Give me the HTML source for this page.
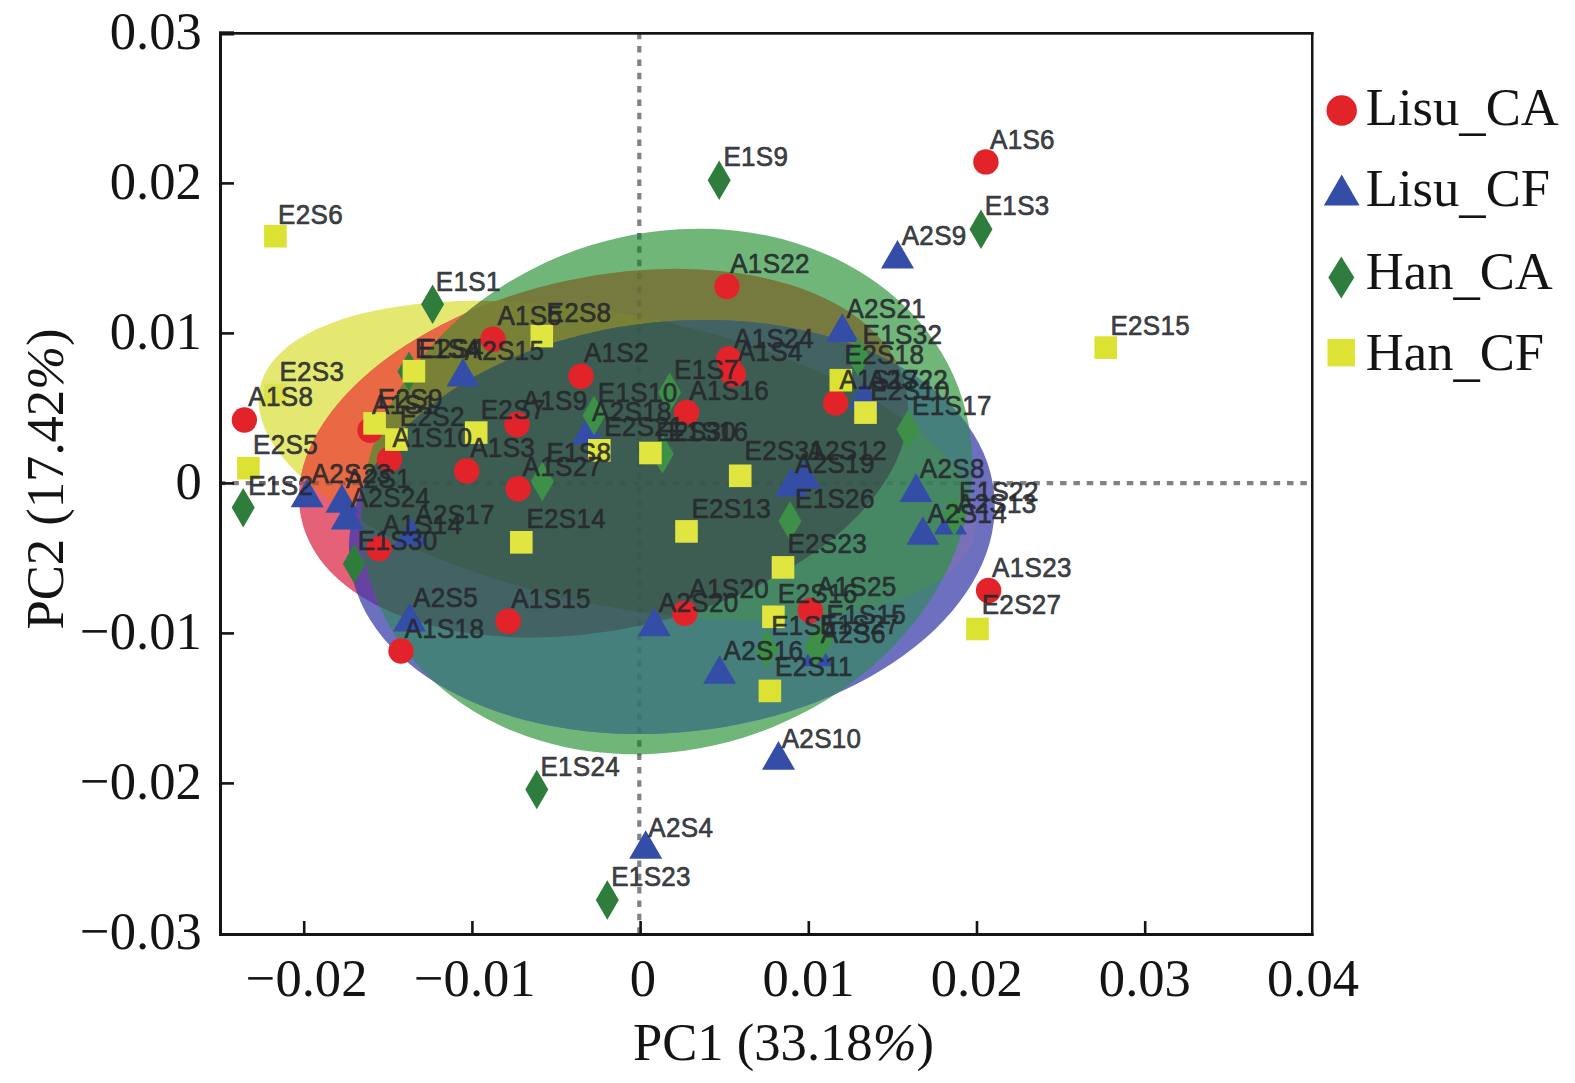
<!DOCTYPE html><html><head><meta charset="utf-8"><title>PCA</title><style>html,body{margin:0;padding:0;background:#fff}svg{display:block}text{white-space:pre}</style></head><body>
<svg width="1575" height="1083" viewBox="0 0 1575 1083">
<defs>
<clipPath id="cY"><ellipse cx="617.5" cy="460.5" rx="365.0" ry="145.4" transform="rotate(11.39 617.5 460.5)"/></clipPath>
<clipPath id="cR"><ellipse cx="603.6" cy="453.2" rx="309.3" ry="176.4" transform="rotate(-12.19 603.6 453.2)"/></clipPath>
<clipPath id="cG"><ellipse cx="666.8" cy="491.5" rx="309.7" ry="257.7" transform="rotate(-17.4 666.8 491.5)"/></clipPath>
<clipPath id="cB"><ellipse cx="671.9" cy="527.0" rx="324.0" ry="205.3" transform="rotate(-6.2 671.9 527.0)"/></clipPath>
<clipPath id="cSeg"><rect x="630" y="232" width="20" height="38.5"/><rect x="630" y="734.5" width="20" height="21"/></clipPath><clipPath id="cSegH"><rect x="258" y="470" width="102" height="26"/><rect x="973" y="470" width="20" height="26"/></clipPath>
</defs>
<rect width="1575" height="1083" fill="#fff"/>
<g stroke="#828284" stroke-width="4.2" stroke-dasharray="6.5 6.85" fill="none">
<path d="M639.3 32.7V933"/>
<path d="M219 483.1H1311"/>
</g>
<g id="ellipses">
<ellipse cx="617.5" cy="460.5" rx="365.0" ry="145.4" transform="rotate(11.39 617.5 460.5)" fill="#e4e871"/>
<ellipse cx="603.6" cy="453.2" rx="309.3" ry="176.4" transform="rotate(-12.19 603.6 453.2)" fill="#e56178"/>
<ellipse cx="666.8" cy="491.5" rx="309.7" ry="257.7" transform="rotate(-17.4 666.8 491.5)" fill="#70b678"/>
<ellipse cx="671.9" cy="527.0" rx="324.0" ry="205.3" transform="rotate(-6.2 671.9 527.0)" fill="#6c70be"/>
<g clip-path="url(#cR)"><ellipse cx="617.5" cy="460.5" rx="365.0" ry="145.4" transform="rotate(11.39 617.5 460.5)" fill="#e86944"/></g>
<g clip-path="url(#cG)"><ellipse cx="617.5" cy="460.5" rx="365.0" ry="145.4" transform="rotate(11.39 617.5 460.5)" fill="#7d8a3c"/></g>
<g clip-path="url(#cB)"><ellipse cx="617.5" cy="460.5" rx="365.0" ry="145.4" transform="rotate(11.39 617.5 460.5)" fill="#7871ba"/></g>
<g clip-path="url(#cG)"><ellipse cx="603.6" cy="453.2" rx="309.3" ry="176.4" transform="rotate(-12.19 603.6 453.2)" fill="#767a3e"/></g>
<g clip-path="url(#cB)"><ellipse cx="603.6" cy="453.2" rx="309.3" ry="176.4" transform="rotate(-12.19 603.6 453.2)" fill="#6642a2"/></g>
<g clip-path="url(#cB)"><ellipse cx="666.8" cy="491.5" rx="309.7" ry="257.7" transform="rotate(-17.4 666.8 491.5)" fill="#46807d"/></g>
<g clip-path="url(#cG)"><g clip-path="url(#cR)"><ellipse cx="617.5" cy="460.5" rx="365.0" ry="145.4" transform="rotate(11.39 617.5 460.5)" fill="#788136"/></g></g>
<g clip-path="url(#cB)"><g clip-path="url(#cR)"><ellipse cx="617.5" cy="460.5" rx="365.0" ry="145.4" transform="rotate(11.39 617.5 460.5)" fill="#6642a2"/></g></g>
<g clip-path="url(#cB)"><g clip-path="url(#cG)"><ellipse cx="617.5" cy="460.5" rx="365.0" ry="145.4" transform="rotate(11.39 617.5 460.5)" fill="#468864"/></g></g>
<g clip-path="url(#cB)"><g clip-path="url(#cG)"><ellipse cx="603.6" cy="453.2" rx="309.3" ry="176.4" transform="rotate(-12.19 603.6 453.2)" fill="#426264"/></g></g>
<g clip-path="url(#cB)"><g clip-path="url(#cG)"><g clip-path="url(#cR)"><ellipse cx="617.5" cy="460.5" rx="365.0" ry="145.4" transform="rotate(11.39 617.5 460.5)" fill="#3e5d52"/></g></g></g>
</g>
<g stroke="#1f3a34" stroke-width="4.2" stroke-dasharray="6.5 6.85" fill="none">
<g clip-path="url(#cG)" stroke-opacity="0.17"><path d="M639.3 32.7V933"/><path d="M219 483.1H1311"/></g>
<g clip-path="url(#cSeg)" stroke="#1f5a30" stroke-opacity="0.5"><path d="M639.3 32.7V933"/></g>
<g clip-path="url(#cSegH)" stroke="#333" stroke-opacity="0.3"><path d="M219 483.1H1311"/></g>
</g>
<g id="markers">
<path d="M897.5 240.0L914.0 268.6H881.0Z" fill="#344ea8"/>
<path d="M842.3 313.3L858.8 341.9H825.8Z" fill="#344ea8"/>
<path d="M463.0 358.0L479.5 386.6H446.5Z" fill="#344ea8"/>
<path d="M588.0 415.4L604.5 444.0H571.5Z" fill="#344ea8"/>
<path d="M307.2 478.7L323.7 507.3H290.7Z" fill="#344ea8"/>
<path d="M341.9 484.1L358.4 512.7H325.4Z" fill="#344ea8"/>
<path d="M347.3 500.8L363.8 529.4H330.8Z" fill="#344ea8"/>
<path d="M411.0 517.4L427.5 546.0H394.5Z" fill="#344ea8"/>
<path d="M409.5 602.9L426.0 631.5H393.0Z" fill="#344ea8"/>
<path d="M864.2 380.2L880.7 408.8H847.7Z" fill="#344ea8"/>
<path d="M804.5 460.0L821.0 488.6H788.0Z" fill="#344ea8"/>
<path d="M791.3 468.0L807.8 496.6H774.8Z" fill="#344ea8"/>
<path d="M916.0 473.3L932.5 501.9H899.5Z" fill="#344ea8"/>
<path d="M922.9 516.2L939.4 544.8H906.4Z" fill="#344ea8"/>
<path d="M950.5 506.0L967.0 534.6H934.0Z" fill="#344ea8"/>
<path d="M654.3 607.6L670.8 636.2H637.8Z" fill="#344ea8"/>
<path d="M719.6 655.2L736.1 683.8H703.1Z" fill="#344ea8"/>
<path d="M817.0 637.6L833.5 666.2H800.5Z" fill="#344ea8"/>
<path d="M778.5 741.1L795.0 769.7H762.0Z" fill="#344ea8"/>
<path d="M645.7 830.2L662.2 858.8H629.2Z" fill="#344ea8"/>
<path d="M719.2 160.4L730.7 180.2L719.2 199.9L707.7 180.2Z" fill="#2e7d3c"/>
<path d="M981.0 209.6L992.5 229.3L981.0 249.1L969.5 229.3Z" fill="#2e7d3c"/>
<path d="M432.6 284.4L444.1 304.2L432.6 323.9L421.1 304.2Z" fill="#2e7d3c"/>
<path d="M409.0 351.6L420.5 371.4L409.0 391.1L397.5 371.4Z" fill="#2e7d3c"/>
<path d="M594.0 395.8L605.5 415.5L594.0 435.2L582.5 415.5Z" fill="#3e9048"/>
<path d="M669.6 372.6L681.1 392.4L669.6 412.1L658.1 392.4Z" fill="#3e9048"/>
<path d="M858.5 337.2L870.0 357.0L858.5 376.8L847.0 357.0Z" fill="#3e9048"/>
<path d="M908.0 409.8L919.5 429.5L908.0 449.2L896.5 429.5Z" fill="#3e9048"/>
<path d="M662.4 434.2L673.9 454.0L662.4 473.8L650.9 454.0Z" fill="#3e9048"/>
<path d="M542.3 461.8L553.8 481.5L542.3 501.2L530.8 481.5Z" fill="#3e9048"/>
<path d="M243.2 487.9L254.7 507.6L243.2 527.4L231.7 507.6Z" fill="#2e7d3c"/>
<path d="M354.3 544.0L365.8 563.8L354.3 583.5L342.8 563.8Z" fill="#2e7d3c"/>
<path d="M790.0 501.2L801.5 521.0L790.0 540.8L778.5 521.0Z" fill="#3e9048"/>
<path d="M954.3 496.2L965.8 516.0L954.3 535.8L942.8 516.0Z" fill="#3e9048"/>
<path d="M766.7 629.8L778.2 649.5L766.7 669.2L755.2 649.5Z" fill="#3e9048"/>
<path d="M815.6 627.2L827.1 647.0L815.6 666.8L804.1 647.0Z" fill="#3e9048"/>
<path d="M821.5 620.5L833.0 640.3L821.5 660.0L810.0 640.3Z" fill="#3e9048"/>
<path d="M536.8 769.8L548.3 789.5L536.8 809.2L525.3 789.5Z" fill="#2e7d3c"/>
<path d="M607.3 880.2L618.8 900.0L607.3 919.8L595.8 900.0Z" fill="#2e7d3c"/>
<circle cx="985.9" cy="161.9" r="12.7" fill="#e2242a"/>
<circle cx="726.9" cy="286.5" r="12.7" fill="#e2242a"/>
<circle cx="493.0" cy="339.3" r="12.7" fill="#e2242a"/>
<circle cx="581.0" cy="376.3" r="12.7" fill="#e2242a"/>
<circle cx="728.6" cy="359.0" r="12.7" fill="#e2242a"/>
<circle cx="733.3" cy="374.3" r="12.7" fill="#e2242a"/>
<circle cx="244.4" cy="420.0" r="12.7" fill="#e2242a"/>
<circle cx="370.0" cy="430.3" r="12.7" fill="#e2242a"/>
<circle cx="517.0" cy="424.5" r="12.7" fill="#e2242a"/>
<circle cx="686.5" cy="412.5" r="12.7" fill="#e2242a"/>
<circle cx="835.6" cy="402.9" r="12.7" fill="#e2242a"/>
<circle cx="389.5" cy="459.5" r="12.7" fill="#e2242a"/>
<circle cx="466.7" cy="470.9" r="12.7" fill="#e2242a"/>
<circle cx="518.2" cy="488.8" r="12.7" fill="#e2242a"/>
<circle cx="379.0" cy="548.6" r="12.7" fill="#e2242a"/>
<circle cx="508.2" cy="621.3" r="12.7" fill="#e2242a"/>
<circle cx="401.0" cy="651.0" r="12.7" fill="#e2242a"/>
<circle cx="684.8" cy="613.3" r="12.7" fill="#e2242a"/>
<circle cx="810.3" cy="610.5" r="12.7" fill="#e2242a"/>
<circle cx="988.6" cy="590.5" r="12.7" fill="#e2242a"/>
<rect x="264.1" y="224.9" width="22.6" height="22.6" fill="#dce232"/>
<rect x="530.5" y="324.8" width="22.6" height="22.6" fill="#e1e540"/>
<rect x="402.6" y="359.9" width="22.6" height="22.6" fill="#e1e540"/>
<rect x="264.1" y="383.7" width="22.6" height="22.6" fill="#dbe24d"/>
<rect x="363.3" y="412.1" width="22.6" height="22.6" fill="#e1e540"/>
<rect x="385.1" y="428.3" width="22.6" height="22.6" fill="#e1e540"/>
<rect x="464.9" y="421.3" width="22.6" height="22.6" fill="#e1e540"/>
<rect x="237.1" y="456.9" width="22.6" height="22.6" fill="#dce232"/>
<rect x="588.0" y="439.0" width="22.6" height="22.6" fill="#e1e540"/>
<rect x="639.1" y="441.7" width="22.6" height="22.6" fill="#e1e540"/>
<rect x="728.9" y="464.5" width="22.6" height="22.6" fill="#e1e540"/>
<rect x="829.5" y="368.9" width="22.6" height="22.6" fill="#dce232"/>
<rect x="854.2" y="401.3" width="22.6" height="22.6" fill="#e1e540"/>
<rect x="1094.4" y="336.3" width="22.6" height="22.6" fill="#dce232"/>
<rect x="510.0" y="531.0" width="22.6" height="22.6" fill="#e1e540"/>
<rect x="675.2" y="520.1" width="22.6" height="22.6" fill="#e1e540"/>
<rect x="771.7" y="556.1" width="22.6" height="22.6" fill="#e1e540"/>
<rect x="762.1" y="605.5" width="22.6" height="22.6" fill="#e1e540"/>
<rect x="966.2" y="617.7" width="22.6" height="22.6" fill="#dce232"/>
<rect x="758.6" y="679.6" width="22.6" height="22.6" fill="#dce232"/>
</g>
<g id="labels" font-family="'Liberation Sans', Arial, sans-serif" font-size="26" letter-spacing="0.33" fill="#25282d" stroke="#25282d" stroke-width="0.7" stroke-linejoin="round" fill-opacity="0.88" stroke-opacity="0.88" transform="scale(1 1.055)">
<text x="901.7" y="231.8">A2S9</text>
<text x="846.4" y="301.2">A2S21</text>
<text x="464.5" y="340.9">A2S15</text>
<text x="592.1" y="398.8">A2S18</text>
<text x="311.6" y="457.9">A2S23</text>
<text x="346.1" y="462.1">A2S1</text>
<text x="350.7" y="480.8">A2S24</text>
<text x="415.0" y="496.3">A2S17</text>
<text x="413.1" y="575.7">A2S5</text>
<text x="868.3" y="369.0">A2S22</text>
<text x="807.4" y="435.7">A2S12</text>
<text x="795.0" y="448.4">A2S19</text>
<text x="919.8" y="452.8">A2S8</text>
<text x="927.4" y="495.5">A2S14</text>
<text x="956.8" y="486.5">A2S13</text>
<text x="658.8" y="580.2">A2S20</text>
<text x="723.6" y="625.3">A2S16</text>
<text x="820.8" y="609.2">A2S6</text>
<text x="781.7" y="709.4">A2S10</text>
<text x="648.3" y="793.0">A2S4</text>
<text x="723.4" y="157.7">E1S9</text>
<text x="984.7" y="204.0">E1S3</text>
<text x="435.8" y="276.0">E1S1</text>
<text x="415.0" y="339.1">E1S4</text>
<text x="597.8" y="381.2">E1S10</text>
<text x="674.0" y="359.0">E1S7</text>
<text x="862.6" y="325.7">E1S32</text>
<text x="912.1" y="393.4">E1S17</text>
<text x="668.5" y="418.0">E1S16</text>
<text x="546.4" y="437.6">E1S8</text>
<text x="248.3" y="469.2">E1S2</text>
<text x="357.8" y="521.5">E1S30</text>
<text x="795.0" y="481.8">E1S26</text>
<text x="959.0" y="474.6">E1S22</text>
<text x="771.2" y="601.9">E1S5</text>
<text x="819.8" y="600.9">E1S27</text>
<text x="826.4" y="591.9">E1S15</text>
<text x="540.4" y="735.8">E1S24</text>
<text x="611.2" y="840.2">E1S23</text>
<text x="990.0" y="141.5">A1S6</text>
<text x="730.2" y="258.9">A1S22</text>
<text x="497.4" y="307.9">A1S5</text>
<text x="583.9" y="343.3">A1S2</text>
<text x="734.0" y="329.8">A1S24</text>
<text x="737.8" y="341.9">A1S4</text>
<text x="248.3" y="385.2">A1S8</text>
<text x="372.1" y="392.4">A1S1</text>
<text x="522.6" y="388.8">A1S9</text>
<text x="689.3" y="378.9">A1S16</text>
<text x="839.4" y="369.0">A1S17</text>
<text x="392.5" y="424.1">A1S10</text>
<text x="470.2" y="433.6">A1S3</text>
<text x="522.6" y="451.1">A1S27</text>
<text x="382.6" y="506.2">A1S14</text>
<text x="511.2" y="576.2">A1S15</text>
<text x="404.5" y="604.5">A1S18</text>
<text x="689.3" y="566.6">A1S20</text>
<text x="816.8" y="564.8">A1S25</text>
<text x="992.1" y="546.8">A1S23</text>
<text x="278.1" y="212.8">E2S6</text>
<text x="546.5" y="305.4">E2S8</text>
<text x="418.8" y="339.1">E2S4</text>
<text x="279.4" y="361.4">E2S3</text>
<text x="377.8" y="387.0">E2S9</text>
<text x="399.8" y="404.2">E2S2</text>
<text x="480.7" y="396.9">E2S7</text>
<text x="253.1" y="430.3">E2S5</text>
<text x="604.2" y="413.6">E2S21</text>
<text x="656.3" y="418.0">E2S30</text>
<text x="744.5" y="435.7">E2S31</text>
<text x="844.5" y="345.5">E2S18</text>
<text x="870.2" y="378.9">E2S10</text>
<text x="1110.4" y="317.3">E2S15</text>
<text x="526.4" y="500.8">E2S14</text>
<text x="691.4" y="490.9">E2S13</text>
<text x="787.4" y="524.3">E2S23</text>
<text x="777.8" y="571.3">E2S16</text>
<text x="981.7" y="582.0">E2S27</text>
<text x="775.0" y="640.7">E2S11</text>
</g>
<g fill="#151313">
<rect x="219" y="32" width="3" height="904"/>
<rect x="219" y="933" width="1094.5" height="3"/>
<rect x="219" y="32" width="1094.5" height="2.7"/>
<rect x="1311" y="32" width="2.5" height="904"/>
<rect x="219" y="31.3" width="15" height="4.2"/>
<rect x="219" y="782.1" width="15" height="2.6"/>
<rect x="219" y="632.1" width="15" height="2.6"/>
<rect x="219" y="482.09999999999997" width="15" height="2.6"/>
<rect x="219" y="332.09999999999997" width="15" height="2.6"/>
<rect x="219" y="182.09999999999997" width="15" height="2.6"/>
<rect x="302.9" y="921" width="2.6" height="13"/>
<rect x="471.1" y="921" width="2.6" height="13"/>
<rect x="639.3" y="921" width="2.6" height="13"/>
<rect x="807.5" y="921" width="2.6" height="13"/>
<rect x="975.7" y="921" width="2.6" height="13"/>
<rect x="1143.9" y="921" width="2.6" height="13"/>
</g>
<g font-family="'Liberation Serif', 'Times New Roman', serif" font-size="53" fill="#151313">
<text transform="translate(201.8 49.1) scale(0.993 1)" text-anchor="end">0.03</text>
<text transform="translate(201.8 199.1) scale(0.993 1)" text-anchor="end">0.02</text>
<text transform="translate(201.8 349.1) scale(0.993 1)" text-anchor="end">0.01</text>
<text transform="translate(201.8 499.1) scale(0.993 1)" text-anchor="end">0</text>
<text transform="translate(201.8 649.1) scale(0.993 1)" text-anchor="end">−0.01</text>
<text transform="translate(201.8 799.1) scale(0.993 1)" text-anchor="end">−0.02</text>
<text transform="translate(201.8 949.1) scale(0.993 1)" text-anchor="end">−0.03</text>
<text transform="translate(306.6 995.6) scale(0.993 1)" text-anchor="middle">−0.02</text>
<text transform="translate(474.8 995.6) scale(0.993 1)" text-anchor="middle">−0.01</text>
<text transform="translate(643.0 995.6) scale(0.993 1)" text-anchor="middle">0</text>
<text transform="translate(808.5 995.6) scale(0.993 1)" text-anchor="middle">0.01</text>
<text transform="translate(976.7 995.6) scale(0.993 1)" text-anchor="middle">0.02</text>
<text transform="translate(1144.9 995.6) scale(0.993 1)" text-anchor="middle">0.03</text>
<text transform="translate(1313.1 995.6) scale(0.993 1)" text-anchor="middle">0.04</text>
<text transform="translate(783.5 1059.6) scale(0.993 1)" text-anchor="middle">PC1 (33.18<tspan font-style="italic">%</tspan>)</text>
<text transform="translate(62.7 479) rotate(-90) scale(0.993 1)" text-anchor="middle">PC2 (17.42<tspan font-style="italic">%</tspan>)</text>
<text transform="translate(1365.8 124.8) scale(0.993 1)">Lisu<tspan dy="4.5">_</tspan><tspan dy="-4.5">CA</tspan></text>
<text transform="translate(1365.8 206) scale(0.993 1)">Lisu<tspan dy="4.5">_</tspan><tspan dy="-4.5">CF</tspan></text>
<text transform="translate(1365.8 288.8) scale(0.993 1)">Han<tspan dy="4.5">_</tspan><tspan dy="-4.5">CA</tspan></text>
<text transform="translate(1365.8 370.4) scale(0.993 1)">Han<tspan dy="4.5">_</tspan><tspan dy="-4.5">CF</tspan></text>
</g>
<circle cx="1341.7" cy="110.5" r="15.2" fill="#e2242a"/>
<path d="M1341.7 174.5L1359.6 205.4H1323.8Z" fill="#344ea8"/>
<path d="M1341.3 256.4L1354.3 277.4L1341.3 298.4L1328.3 277.4Z" fill="#2e7d3c"/>
<rect x="1327.5" y="338.9" width="27.5" height="27.5" fill="#dfe335"/>
</svg></body></html>
